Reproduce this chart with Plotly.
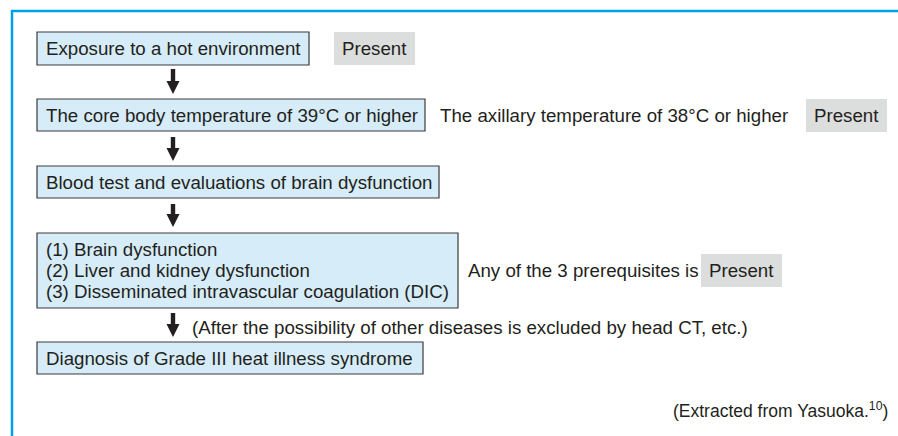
import plotly.graph_objects as go

# ---- content (texts) ----
box_texts = [
    ["Exposure to a hot environment"],
    ["The core body temperature of 39°C or higher"],
    ["Blood test and evaluations of brain dysfunction"],
    ["(1) Brain dysfunction", "(2) Liver and kidney dysfunction",
     "(3) Disseminated intravascular coagulation (DIC)"],
    ["Diagnosis of Grade III heat illness syndrome"],
]
side_texts = ["", "The axillary temperature of 38°C or higher", "",
              "Any of the 3 prerequisites is", ""]
present_label = "Present"
arrow_note = "(After the possibility of other diseases is excluded by head CT, etc.)"
source_note = "(Extracted from Yasuoka.<sup>10</sup>)"

# ---- layout geometry (pixels) ----
W, H = 898, 436
box_x0 = 37
box_right = [309, 425, 439, 458, 423]
box_top = [32, 99, 166, 233, 342]
box_bot = [65, 131, 198, 308, 374]
side_x = [None, 438, None, 466, None]
present_boxes = [(334, 415, 32, 65), (806, 887, 99, 132), (701, 782, 254, 287)]
arrows = [(69, 94), (137, 161), (204, 227), (313, 337)]
arrow_cx = 173

TXT = "#231f20"
FILL = "#d6ecf8"
EDGE = "#3a3a3a"
GRAY = "#dcdddd"
BLUE = "#00a0e9"
FONT = "Liberation Sans, Arial, Helvetica, sans-serif"
FS = 18.7

fig = go.Figure()
shapes = []
ann = []

# frame
shapes.append(dict(type="line", x0=11, x1=W, y0=11, y1=11,
                   line=dict(color=BLUE, width=2.5)))
shapes.append(dict(type="line", x0=12, x1=12, y0=10, y1=H,
                   line=dict(color=BLUE, width=2.5)))

for i, lines in enumerate(box_texts):
    shapes.append(dict(type="rect", x0=box_x0, x1=box_right[i],
                       y0=box_top[i], y1=box_bot[i],
                       fillcolor=FILL, line=dict(color=EDGE, width=1.2)))
    n = len(lines)
    cy = (box_top[i] + box_bot[i]) / 2
    step = 21
    for k, t in enumerate(lines):
        y = cy + (k - (n - 1) / 2) * step
        ann.append(dict(x=box_x0 + 7, y=y, text=t, xanchor="left",
                        yanchor="middle", showarrow=False,
                        font=dict(size=FS, color=TXT, family=FONT)))
    if side_texts[i]:
        ann.append(dict(x=side_x[i], y=cy, text=side_texts[i],
                        xanchor="left", yanchor="middle", showarrow=False,
                        font=dict(size=FS, color=TXT, family=FONT)))

for (x0, x1, y0, y1) in present_boxes:
    shapes.append(dict(type="rect", x0=x0, x1=x1, y0=y0, y1=y1,
                       fillcolor=GRAY, line=dict(width=0)))
    ann.append(dict(x=(x0 + x1) / 2, y=(y0 + y1) / 2, text=present_label,
                    xanchor="center", yanchor="middle", showarrow=False,
                    font=dict(size=FS, color=TXT, family=FONT)))

for (ya, yb) in arrows:
    hh = 13  # head height
    sw, hw = 2.2, 6.5
    p = (f"M {arrow_cx-sw},{ya} L {arrow_cx+sw},{ya} L {arrow_cx+sw},{yb-hh} "
         f"L {arrow_cx+hw},{yb-hh} L {arrow_cx},{yb} L {arrow_cx-hw},{yb-hh} "
         f"L {arrow_cx-sw},{yb-hh} Z")
    shapes.append(dict(type="path", path=p, fillcolor=TXT, line=dict(width=0)))

ann.append(dict(x=190, y=327, text=arrow_note, xanchor="left",
                yanchor="middle", showarrow=False,
                font=dict(size=FS, color=TXT, family=FONT)))
ann.append(dict(x=890, y=410, text=source_note, xanchor="right",
                yanchor="middle", showarrow=False,
                font=dict(size=17.5, color=TXT, family=FONT)))

fig.update_layout(
    width=W, height=H, margin=dict(l=0, r=0, t=0, b=0),
    paper_bgcolor="white", plot_bgcolor="white",
    xaxis=dict(range=[0, W], visible=False, fixedrange=True),
    yaxis=dict(range=[H, 0], visible=False, fixedrange=True),
    shapes=shapes, annotations=ann, showlegend=False,
)
fig.write_html("out.html", config={"displayModeBar": False},
               post_script="document.body.style.margin='0';"
                           "document.body.style.overflow='hidden';")
